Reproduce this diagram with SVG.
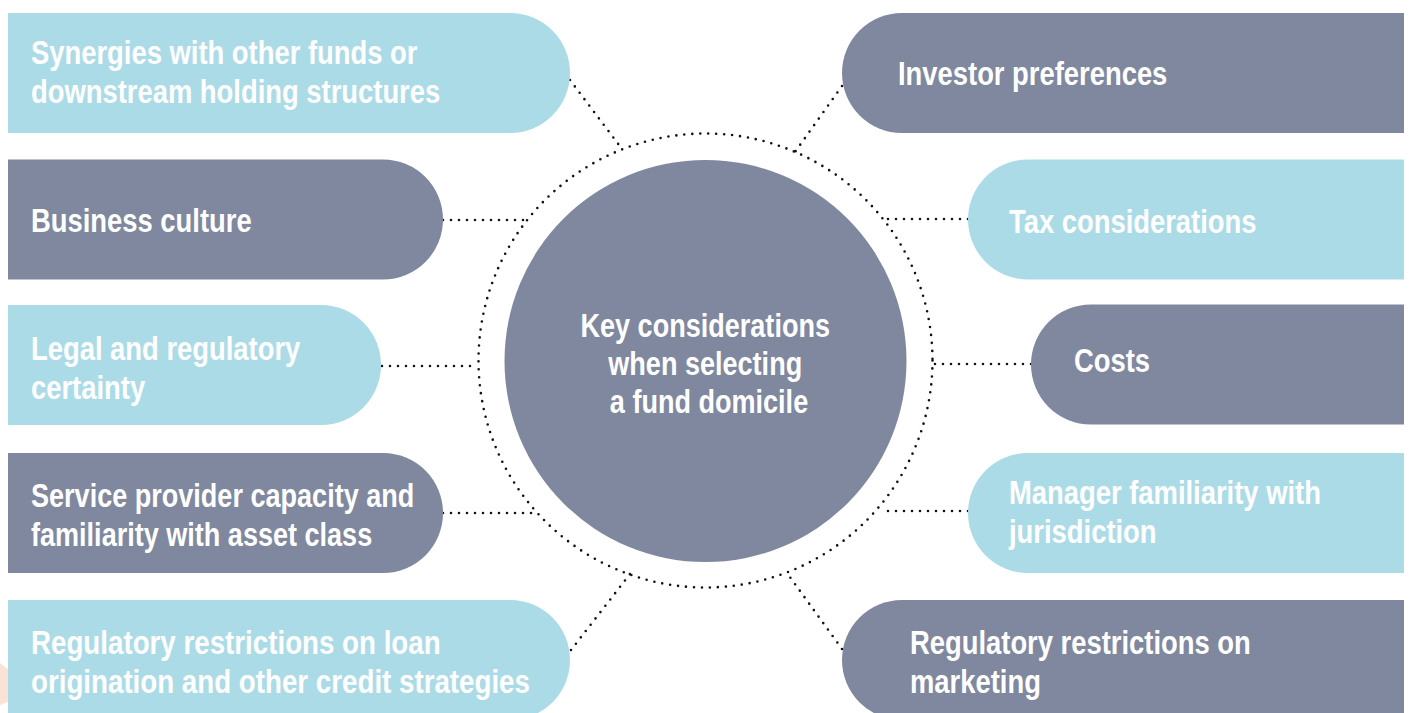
<svg xmlns="http://www.w3.org/2000/svg" width="1410" height="713" viewBox="0 0 1410 713">
  <defs>
    <style>
      .pill-blue { fill: #ACDBE8; }
      .pill-grey { fill: #7F889F; }
      /* bold sans, narrowed horizontally via each text's transform */
      .label { font-family: "Liberation Sans", Arimo, Arial, sans-serif; font-weight: bold; font-size: 33px; fill: #FFFFFF; }
      .hub-label { text-anchor: middle; }
      .dots { fill: none; stroke: #111111; stroke-width: 2.6; stroke-linecap: round; stroke-dasharray: 0 8; }
    </style>
  </defs>

  <rect x="0" y="0" width="1410" height="713" fill="#FFFFFF"/>

  <!-- faint shape peeking out at the lower left edge -->
  <polygon points="0,663 10,671 10,701 0,705" fill="#FCE1D6"/>

  <!-- dotted connectors and hub ring -->
  <g id="connectors" class="dots">
    <circle cx="705.5" cy="360.5" r="227"/>
    <line x1="570" y1="80" x2="622" y2="149"/>
    <line x1="443" y1="220" x2="527" y2="220"/>
    <line x1="382" y1="366" x2="478" y2="366"/>
    <line x1="443" y1="513" x2="532" y2="513"/>
    <line x1="571" y1="650" x2="630" y2="574"/>
    <line x1="842" y1="86" x2="795" y2="152"/>
    <line x1="968" y1="219" x2="884" y2="219"/>
    <line x1="1031" y1="364" x2="933" y2="364"/>
    <line x1="968" y1="511" x2="880" y2="511"/>
    <line x1="842" y1="649" x2="787" y2="573"/>
  </g>

  <!-- central hub -->
  <g id="hub">
    <circle cx="705.5" cy="361" r="201" class="pill-grey"/>
    <text class="label hub-label" transform="translate(709,337) scale(0.82,1)">
      <tspan x="0" y="0">Key considerations</tspan>
      <tspan x="0" y="38">when selecting</tspan>
      <tspan x="0" y="76">a fund domicile</tspan>
    </text>
  </g>

  <!-- left column -->
  <g id="synergies">
    <path class="pill-blue" d="M8,13 H510 A60,60 0 0 1 510,133 H8 Z"/>
    <text class="label" transform="translate(31,64) scale(0.83,1)">
      <tspan x="0" y="0">Synergies with other funds or</tspan>
      <tspan x="0" y="39">downstream holding structures</tspan>
    </text>
  </g>
  <g id="business-culture">
    <path class="pill-grey" d="M8,159.5 H383 A60,60 0 0 1 383,279.5 H8 Z"/>
    <text class="label" transform="translate(31,232) scale(0.83,1)">Business culture</text>
  </g>
  <g id="legal-certainty">
    <path class="pill-blue" d="M8,305 H321 A60,60 0 0 1 321,425 H8 Z"/>
    <text class="label" transform="translate(31,360) scale(0.83,1)">
      <tspan x="0" y="0">Legal and regulatory</tspan>
      <tspan x="0" y="39">certainty</tspan>
    </text>
  </g>
  <g id="service-providers">
    <path class="pill-grey" d="M8,453 H383 A60,60 0 0 1 383,573 H8 Z"/>
    <text class="label" transform="translate(31,507) scale(0.82,1)">
      <tspan x="0" y="0">Service provider capacity and</tspan>
      <tspan x="0" y="39">familiarity with asset class</tspan>
    </text>
  </g>
  <g id="loan-origination">
    <path class="pill-blue" d="M8,600 H510 A60,60 0 0 1 510,720 H8 Z"/>
    <text class="label" transform="translate(31,654) scale(0.84,1)">
      <tspan x="0" y="0">Regulatory restrictions on loan</tspan>
      <tspan x="0" y="39">origination and other credit strategies</tspan>
    </text>
  </g>

  <!-- right column -->
  <g id="investor-preferences">
    <path class="pill-grey" d="M1404,13 H902 A60,60 0 0 0 902,133 H1404 Z"/>
    <text class="label" transform="translate(898,85) scale(0.83,1)">Investor preferences</text>
  </g>
  <g id="tax">
    <path class="pill-blue" d="M1404,159.5 H1028 A60,60 0 0 0 1028,279.5 H1404 Z"/>
    <text class="label" transform="translate(1009,233) scale(0.83,1)">Tax considerations</text>
  </g>
  <g id="costs">
    <path class="pill-grey" d="M1404,304.5 H1091 A60,60 0 0 0 1091,424.5 H1404 Z"/>
    <text class="label" transform="translate(1074,372) scale(0.83,1)">Costs</text>
  </g>
  <g id="manager-familiarity">
    <path class="pill-blue" d="M1404,453 H1028 A60,60 0 0 0 1028,573 H1404 Z"/>
    <text class="label" transform="translate(1009,504) scale(0.83,1)">
      <tspan x="0" y="0">Manager familiarity with</tspan>
      <tspan x="0" y="39">jurisdiction</tspan>
    </text>
  </g>
  <g id="marketing">
    <path class="pill-grey" d="M1404,600 H902 A60,60 0 0 0 902,720 H1404 Z"/>
    <text class="label" transform="translate(910,654) scale(0.83,1)">
      <tspan x="0" y="0">Regulatory restrictions on</tspan>
      <tspan x="0" y="39">marketing</tspan>
    </text>
  </g>
</svg>
